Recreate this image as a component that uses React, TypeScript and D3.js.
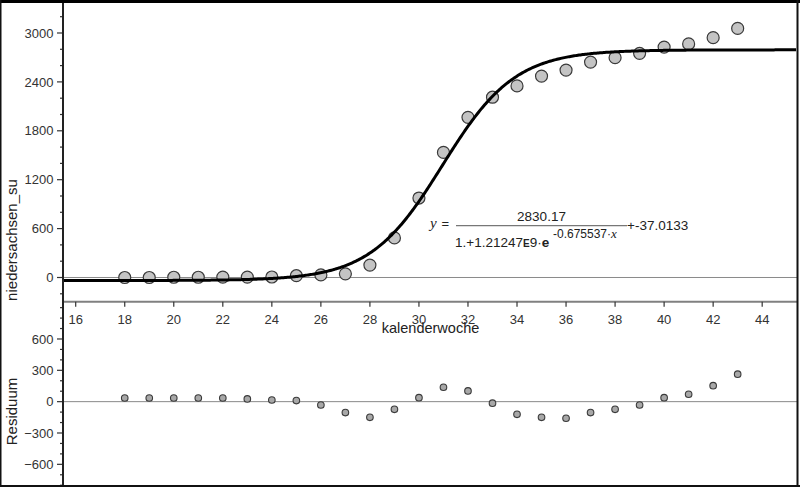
import React, { useEffect } from 'react';
import * as d3 from 'd3';

// ---- data ----
const weeks = [18, 19, 20, 21, 22, 23, 24, 25, 26, 27, 28, 29, 30, 31, 32, 33, 34, 35, 36, 37, 38, 39, 40, 41, 42, 43];
const cases = [0, 0, 3, 3, 5, 4, 6, 22, 32, 45, 152, 486, 975, 1535, 1965, 2212, 2351, 2471, 2545, 2643, 2697, 2750, 2827, 2866, 2943, 3056];
const residuals = [35, 35, 35, 35, 35, 26, 16, 10, -32, -105, -150, -73, 38, 138, 103, -15, -121, -150, -159, -105, -73, -32, 38, 71, 153, 263];
const xTicks = [16, 18, 20, 22, 24, 26, 28, 30, 32, 34, 36, 38, 40, 42, 44];
const yTicksTop = [0, 600, 1200, 1800, 2400, 3000];
const yMinorTop = [-200, 200, 400, 800, 1000, 1400, 1600, 2000, 2200, 2600, 2800, 3200];
const residTicks = [-600, -300, 0, 300, 600];
const residMinor = [-800, -700, -500, -400, -200, -100, 100, 200, 400, 500, 700, 800, 900];
// logistic regression: y = a / (1 + b e^(-k x)) + c
const modelA = 2830.17;
const modelB = 1.21247e9;
const modelK = 0.675537;
const modelC = -37.0133;

const W = 800;
const H = 487;
const AX = 63;
const RIGHT = 797;
const TOP = 3;
const MID = 301.7;
const BOTTOM = 487;

const FONT = 'Liberation Sans, Arial, sans-serif';
const fmt = (v: number) => (v < 0 ? '\u2212' + Math.abs(v) : String(v));

export default function App() {
  useEffect(() => {
    document.body.style.margin = '0';
  }, []);

  const x = d3.scaleLinear().domain([15.482, 45.42]).range([AX, RIGHT]);
  const yTop = d3.scaleLinear().domain([-297, 3368]).range([MID, TOP]);
  const yRes = d3.scaleLinear().domain([-817, 954]).range([BOTTOM, 302]);

  const model = (t: number) => modelA / (1 + modelB * Math.exp(-modelK * t)) + modelC;
  const xs = d3.range(15.482, 45.42, 0.05);
  const curve = d3
    .line<number>()
    .x((t) => x(t))
    .y((t) => yTop(model(t)))
    .curve(d3.curveLinear)(xs) as string;

  return (
    <svg width={W} height={H} style={{ position: 'absolute', left: 0, top: 0, background: '#fff' }}>
      <defs>
        <clipPath id="topClip">
          <rect x={AX} y={TOP} width={RIGHT - AX} height={MID - TOP} />
        </clipPath>
      </defs>
      <rect x={0} y={0} width={W} height={H} fill="#fff" />

      {/* top panel zero line */}
      <line x1={AX} x2={RIGHT} y1={yTop(0)} y2={yTop(0)} stroke="#8a8a8a" strokeWidth={1} />

      {/* scatter points */}
      <g clipPath="url(#topClip)">
        {weeks.map((w, i) => (
          <circle key={w} cx={x(w)} cy={yTop(cases[i])} r={6} fill="#c4c4c4" stroke="#3a3a3a" strokeWidth={1.2} />
        ))}
        <path d={curve} fill="none" stroke="#000" strokeWidth={3} />
      </g>

      {/* top panel x-axis */}
      <line x1={AX} x2={RIGHT} y1={MID} y2={MID} stroke="#808080" strokeWidth={2} />
      {xTicks.map((t) => (
        <g key={t}>
          <line x1={x(t)} x2={x(t)} y1={MID} y2={MID + 5} stroke="#333" strokeWidth={1.2} />
          <text x={x(t)} y={323.5} textAnchor="middle" fontFamily={FONT} fontSize={13} fill="#333">
            {t}
          </text>
        </g>
      ))}
      <text x={430.5} y={333} textAnchor="middle" fontFamily={FONT} fontSize={14.5} fill="#222">
        kalenderwoche
      </text>

      {/* top y axis */}
      {yTicksTop.map((t) => (
        <g key={t}>
          <line x1={AX - 6} x2={AX} y1={yTop(t)} y2={yTop(t)} stroke="#333" strokeWidth={1.2} />
          <text x={53.5} y={yTop(t) + 4.7} textAnchor="end" fontFamily={FONT} fontSize={13} fill="#333">
            {fmt(t)}
          </text>
        </g>
      ))}
      {yMinorTop.map((t) => (
        <line key={t} x1={AX - 3} x2={AX} y1={yTop(t)} y2={yTop(t)} stroke="#333" strokeWidth={1.2} />
      ))}
      <text
        transform={`translate(17,240) rotate(-90)`}
        textAnchor="middle"
        fontFamily={FONT}
        fontSize={15}
        fill="#222"
      >
        niedersachsen_su
      </text>

      {/* equation */}
      <g fontFamily={FONT} fill="#222">
        <text x={430} y={228} fontFamily="Liberation Serif, serif" fontStyle="italic" fontSize={15}>
          y
        </text>
        <text x={441.5} y={228} fontSize={13}>
          =
        </text>
        <text x={541.5} y={221} textAnchor="middle" fontSize={13.5}>
          2830.17
        </text>
        <line x1={456} x2={627} y1={225.7} y2={225.7} stroke="#777" strokeWidth={1.2} />
        <text x={455} y={246.5} fontSize={13.5}>
          1.+1.21247
          <tspan fontWeight="bold" fontSize={10}>E</tspan>
          <tspan>9·</tspan>
          <tspan fontWeight="bold">e</tspan>
        </text>
        <text x={553} y={238.3} fontSize={12}>
          -0.675537·
          <tspan fontFamily="Liberation Serif, serif" fontStyle="italic" fontSize={13}>x</tspan>
        </text>
        <text x={627} y={229.5} fontSize={13.5}>
          +-37.0133
        </text>
      </g>

      {/* residual panel */}
      <line x1={AX} x2={RIGHT} y1={yRes(0)} y2={yRes(0)} stroke="#8a8a8a" strokeWidth={1} />
      {weeks.map((w, i) => (
        <circle key={w} cx={x(w)} cy={yRes(residuals[i])} r={3.3} fill="#a8a8a8" stroke="#3a3a3a" strokeWidth={1.1} />
      ))}
      {residTicks.map((t) => (
        <g key={t}>
          <line x1={AX - 6} x2={AX} y1={yRes(t)} y2={yRes(t)} stroke="#333" strokeWidth={1.2} />
          <text x={53.5} y={yRes(t) + 4.7} textAnchor="end" fontFamily={FONT} fontSize={13} fill="#333">
            {fmt(t)}
          </text>
        </g>
      ))}
      {residMinor.map((t) => (
        <line key={t} x1={AX - 3} x2={AX} y1={yRes(t)} y2={yRes(t)} stroke="#333" strokeWidth={1.2} />
      ))}
      <text
        transform={`translate(17,411.5) rotate(-90)`}
        textAnchor="middle"
        fontFamily={FONT}
        fontSize={15}
        fill="#222"
      >
        Residuum
      </text>

      {/* left axis line */}
      <line x1={AX} x2={AX} y1={TOP} y2={BOTTOM} stroke="#222" strokeWidth={2} />

      {/* frame */}
      <rect x={0} y={0} width={W} height={3} fill="#000" />
      <rect x={0} y={0} width={1.5} height={H} fill="#111" />
      <rect x={796.5} y={0} width={2} height={H} fill="#111" />
      <rect x={0} y={485} width={W} height={2} fill="#111" />
    </svg>
  );
}
